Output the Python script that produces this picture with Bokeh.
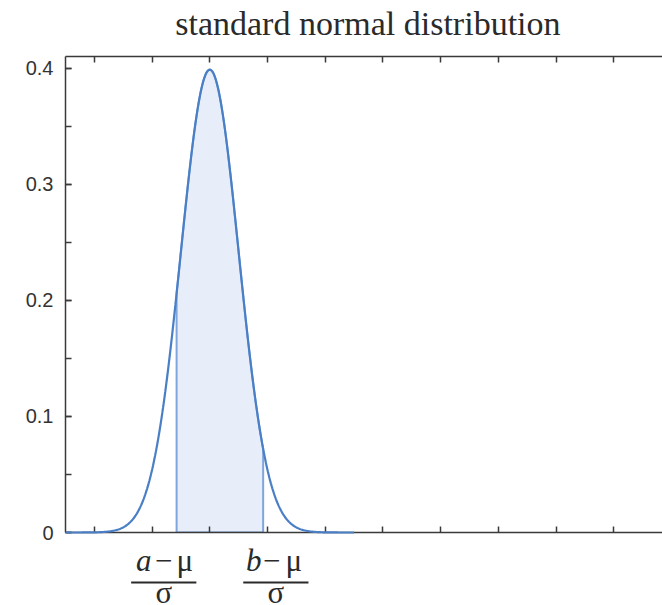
import numpy as np
from bokeh.plotting import figure
from bokeh.layouts import column
from bokeh.models import (LinearAxis, SingleIntervalTicker, CustomJSTickFormatter, Range1d)
from bokeh.core.properties import value
from bokeh.embed import file_html
from bokeh.resources import INLINE

# ---- data ----
title_text = "standard normal distribution"
mu = 0.0
sigma = 1.0
curve_span = [-5.0, 5.0]          # domain of the plotted pdf
a_std = -1.15                     # (a - mu) / sigma
b_std = 1.85                      # (b - mu) / sigma
y_ticks_major = 0.1
x_tick_interval = 2
x_range = [-5.0, 15.69]
y_range = [0.0, 0.4103]
frac_positions = [-1.595, 2.29]   # where the fraction labels sit on the x axis
frac_letters = ["a", "b"]

def pdf(x):
    return np.exp(-0.5 * ((x - mu) / sigma) ** 2) / (sigma * np.sqrt(2 * np.pi))

xs = np.linspace(curve_span[0], curve_span[1], 400)
ys = pdf(xs)

xf = np.linspace(a_std, b_std, 200)
yf = pdf(xf)
patch_x = np.concatenate([[a_std], xf, [b_std]])
patch_y = np.concatenate([[0.0], yf, [0.0]])

AX = "#3a3a3a"
LINE = "#4a7fc6"
TXT = "#2a2a2a"
SERIF = value("Liberation Serif")
W = 662
LEFT = 65

xr = Range1d(*x_range)

def bare(fig):
    fig.outline_line_color = None
    fig.grid.visible = False
    fig.background_fill_color = "white"
    fig.border_fill_color = "white"

# ---- title strip ----
top = figure(width=W, height=48, output_backend="svg", toolbar_location=None,
             x_range=xr, y_range=Range1d(48, 0),
             x_axis_location=None, y_axis_location=None,
             min_border_left=LEFT, min_border_right=0, min_border_top=0, min_border_bottom=0)
bare(top)
top.text(x=[5.48], y=[23], text=[title_text], text_font=SERIF, text_font_size="34px",
         text_color=TXT, text_align="center", text_baseline="middle")

# ---- main plot ----
p = figure(width=W, height=494, output_backend="svg", toolbar_location=None,
           x_range=xr, y_range=Range1d(*y_range),
           x_axis_location=None, y_axis_location=None,
           min_border_left=LEFT, min_border_right=0, min_border_top=8,
           min_border_bottom=10)
bare(p)

def style(ax):
    ax.axis_line_color = AX
    ax.axis_line_width = 1.5
    ax.major_tick_line_color = AX
    ax.minor_tick_line_color = AX
    ax.major_tick_line_width = 1.5
    ax.minor_tick_line_width = 1.5
    ax.major_tick_in = 6
    ax.major_tick_out = 0
    ax.minor_tick_in = 6
    ax.minor_tick_out = 0

yax = LinearAxis(ticker=SingleIntervalTicker(interval=y_ticks_major, num_minor_ticks=2),
                 formatter=CustomJSTickFormatter(code="return Math.abs(tick) < 1e-9 ? '0' : tick.toFixed(1);"))
style(yax)
yax.major_label_text_font = "Liberation Sans"
yax.major_label_text_font_size = "20px"
yax.major_label_text_color = "#333333"
yax.major_label_standoff = 12
p.add_layout(yax, "left")

for loc in ["below", "above"]:
    ax = LinearAxis(ticker=SingleIntervalTicker(interval=x_tick_interval, num_minor_ticks=0),
                    formatter=CustomJSTickFormatter(code="return '';"))
    style(ax)
    ax.major_label_text_font_size = "1px"
    ax.major_label_standoff = 0
    p.add_layout(ax, loc)

p.patch(patch_x, patch_y, fill_color="#e7eefa", line_color="#7fa6dc", line_width=2)
p.line(xs, ys, line_color=LINE, line_width=2.2, level="overlay")

# ---- fraction labels strip ----
H_BOT = 63
bot = figure(width=W, height=H_BOT, output_backend="svg", toolbar_location=None,
             x_range=xr, y_range=Range1d(H_BOT, 0),
             x_axis_location=None, y_axis_location=None,
             min_border_left=LEFT, min_border_right=0, min_border_top=0, min_border_bottom=0)
bare(bot)

offsets = [(-20, 0, 21), (-22, -4, 18)]
it_x, it_off, it_txt = [], [], []
up_x, up_off, up_txt = [], [], []
for xc, letter, (o1, o2, o3) in zip(frac_positions, frac_letters, offsets):
    it_x.append(xc); it_off.append(o1); it_txt.append(letter)
    up_x += [xc, xc]; up_off += [o2, o3]; up_txt += ["\u2212", "\u03bc"]

NUM_Y = 17.5
bot.text(x=it_x, y=[NUM_Y] * len(it_x), text=it_txt, x_offset=it_off,
         text_font=SERIF, text_font_style="italic", text_font_size="31px", text_color=TXT,
         text_align="center", text_baseline="middle")
bot.text(x=up_x, y=[NUM_Y] * len(up_x), text=up_txt, x_offset=up_off,
         text_font=SERIF, text_font_style="normal", text_font_size="31px", text_color=TXT,
         text_align="center", text_baseline="middle")
half = 1.13
bot.segment(x0=[c - half for c in frac_positions], x1=[c + half for c in frac_positions],
            y0=[40] * 2, y1=[40] * 2, line_color=TXT, line_width=2)
bot.text(x=frac_positions, y=[49.5] * 2, text=["\u03c3"] * 2, text_font=SERIF,
         text_font_size="31px", text_color=TXT, text_align="center", text_baseline="middle")

layout = column(top, p, bot, spacing=0)
open("out.html", "w").write(file_html(layout, INLINE))
